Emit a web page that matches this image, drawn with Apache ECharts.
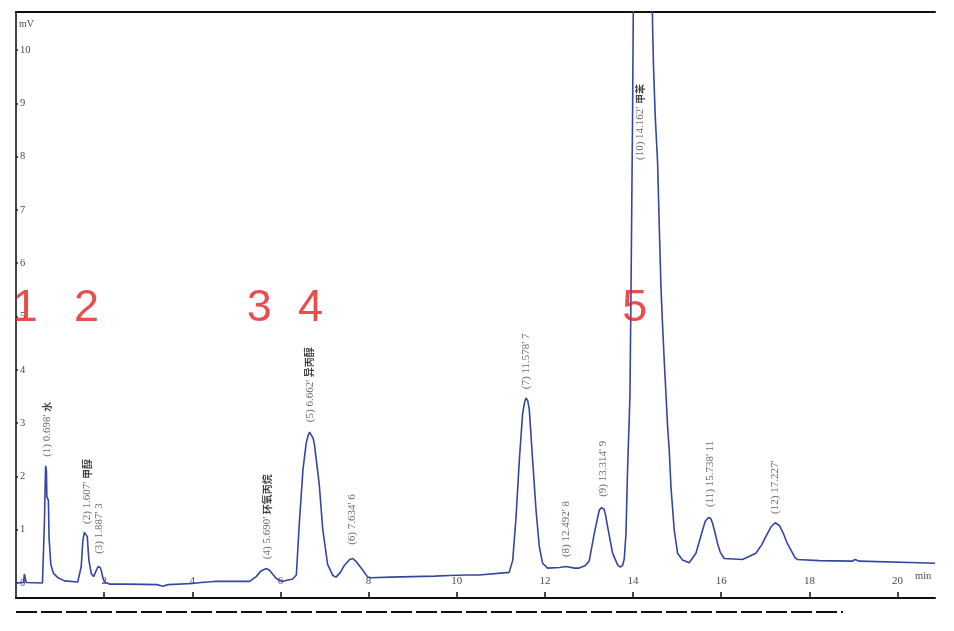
<!DOCTYPE html>
<html>
<head>
<meta charset="utf-8">
<script src="https://cdn.jsdelivr.net/npm/echarts@6/dist/echarts.min.js"></script>
<style>html,body{margin:0;padding:0;background:#fff;}#chart{width:954px;height:631px;}</style>
</head>
<body>
<div id="chart"></div>
<script>
// Chromatogram trace (time in min, signal in mV)
const chromTime = [0.00,0.17,0.19,0.21,0.23,0.60,0.63,0.645,0.672,0.69,0.70,0.735,0.75,0.79,0.85,0.95,1.10,1.40,
  1.442,1.48,1.517,1.55,1.578,1.617,1.653,1.707,1.76,1.79,1.83,1.86,1.88,1.91,1.934,1.97,2.01,2.12,2.50,3.20,3.33,3.45,4.00,4.20,4.50,5.00,
  5.30,5.45,5.55,5.64,5.69,5.75,5.82,5.90,6.02,6.20,6.27,6.36,6.43,6.51,6.58,6.62,6.66,6.70,6.74,6.77,6.85,6.88,6.96,7.07,7.19,7.26,
  7.36,7.45,7.57,7.64,7.72,7.87,7.98,8.06,8.50,9.50,9.83,10.20,10.51,11.19,
  11.27,11.345,11.42,11.494,11.54,11.571,11.61,11.646,11.721,11.798,11.873,11.948,12.06,12.33,12.48,12.67,12.78,12.92,13.007,
  13.12,13.234,13.28,13.309,13.34,13.37,13.422,13.535,13.649,13.71,13.762,13.80,13.839,13.875,13.929,13.952,13.989,14.011,14.20,
  14.43,14.444,14.465,14.503,14.556,14.594,14.633,14.669,14.708,14.746,14.782,14.82,14.859,14.934,15.01,15.122,
  15.274,15.426,15.576,15.637,15.712,15.762,15.803,15.864,15.916,15.977,16.068,16.483,16.787,16.92,17.03,17.127,17.224,17.32,17.41,
  17.49,17.60,17.67,17.73,18.22,18.97,19.04,19.13,20.49,20.85];
const chromSignal = [0.00,0.01,0.17,0.15,0.01,0.00,0.02,1.15,2.20,2.10,1.62,1.55,0.85,0.35,0.18,0.10,0.04,0.02,
  0.02,0.31,0.80,0.95,0.98,0.87,0.43,0.18,0.12,0.13,0.25,0.31,0.32,0.29,0.24,0.10,0.02,-0.02,-0.02,-0.03,-0.06,-0.03,-0.01,0.01,0.03,0.03,
  0.03,0.12,0.22,0.26,0.27,0.24,0.17,0.09,0.03,0.06,0.07,0.15,1.15,2.12,2.60,2.75,2.83,2.80,2.72,2.60,2.06,1.85,1.00,0.35,0.14,0.11,
  0.20,0.33,0.44,0.46,0.40,0.24,0.11,0.10,0.11,0.13,0.14,0.15,0.15,0.20,
  0.43,1.24,2.31,3.18,3.40,3.47,3.42,3.25,2.31,1.37,0.68,0.37,0.28,0.29,0.31,0.28,0.28,0.33,0.42,
  0.93,1.37,1.41,1.42,1.39,1.30,1.06,0.56,0.34,0.30,0.33,0.45,0.93,2.12,3.50,5.40,8.80,11.50,13.50,
  11.20,10.40,9.65,8.75,7.90,6.70,5.55,4.85,4.15,3.55,2.95,2.50,1.81,0.99,0.56,0.43,
  0.38,0.56,0.99,1.16,1.23,1.21,1.12,0.93,0.74,0.58,0.46,0.44,0.56,0.72,0.90,1.05,1.13,1.08,0.93,
  0.76,0.59,0.48,0.44,0.42,0.41,0.44,0.41,0.38,0.37];

// Peak annotations
const peakTimes = [0.698,1.607,1.887,5.690,6.662,7.634,11.578,12.492,13.314,14.162,15.738,17.227];
const peakNames = ['水','甲醇','3','环氧丙烷','异丙醇','6','7','8','9','甲苯','11',''];
const labelBase = [2.31,1.05,0.49,0.39,2.96,0.66,3.58,0.43,1.56,7.88,1.37,1.24];

// Red marker numbers (peak group ids) and their time positions
const groupIds = ['1','2','3','4','5'];
const groupTimes = [0.21,1.60,5.52,6.68,14.04];
const groupLevel = 5.14;

const xTicks = {min:0, max:20.85, interval:2};
const yTickValues = [0,1,2,3,4,5,6,7,8,9,10];

const chart = echarts.init(document.getElementById('chart'));
const lineData = chromTime.map((t,i)=>[t, chromSignal[i]]);
const labelData = peakTimes.map((t,i)=>({value:[t, labelBase[i]], idx:i}));

chart.setOption({
  animation:false,
  backgroundColor:'#fff',
  grid:{left:16, right:19, top:12, bottom:33, containLabel:false},
  xAxis:[{
    type:'value', min:xTicks.min, max:xTicks.max, interval:xTicks.interval, position:'bottom',
    name:'min', nameLocation:'end', nameGap:-20,
    nameTextStyle:{color:'#4a4a5a', fontSize:10.5, fontFamily:'Liberation Serif', align:'left', verticalAlign:'bottom', padding:[0,0,16,0]},
    axisLine:{onZero:false, lineStyle:{color:'#111', width:2}},
    axisTick:{inside:true, length:6, lineStyle:{color:'#111', width:1.5}},
    axisLabel:{inside:true, margin:11, color:'#4a4a5a', fontSize:11, fontFamily:'Liberation Serif', showMinLabel:false, showMaxLabel:false},
    splitLine:{show:false}
  },{
    type:'value', min:xTicks.min, max:xTicks.max, position:'top',
    axisLine:{onZero:false, lineStyle:{color:'#111', width:2}},
    axisTick:{show:false}, axisLabel:{show:false}, splitLine:{show:false}
  }],
  yAxis:{
    type:'value', min:-0.281, max:10.713,
    name:'mV', nameLocation:'end', nameGap:-12,
    nameTextStyle:{color:'#4a4a5a', fontSize:10, fontFamily:'Liberation Serif', align:'left', verticalAlign:'middle', padding:[0,0,0,3]},
    axisLine:{show:true, onZero:false, lineStyle:{color:'#444', width:2}},
    axisTick:{show:true, inside:true, length:2, customValues:yTickValues, lineStyle:{color:'#222', width:1.5}},
    axisLabel:{inside:true, margin:4, customValues:yTickValues, color:'#4a4a5a', fontSize:10.5, fontFamily:'Liberation Serif'},
    splitLine:{show:false}
  },
  series:[{
    type:'line', data:lineData, xAxisIndex:0, showSymbol:false, symbol:'none', clip:true,
    lineStyle:{color:'#3446a0', width:1.6}, silent:true, z:2
  },{
    type:'scatter', data:labelData, xAxisIndex:0, symbolSize:0.1, silent:true, z:3,
    label:{
      show:true, position:'top', distance:0, rotate:90, align:'left', verticalAlign:'middle', offset:[3,0],
      color:'#444', fontSize:11, fontFamily:'Liberation Serif',
      formatter:(p)=>{
        const i = p.data.idx; const n = peakNames[i];
        const isCJK = /[\u4e00-\u9fff]/.test(n);
        return '(' + (i+1) + ') ' + peakTimes[i].toFixed(3) + "' " + (n ? (isCJK ? '{b|' + n + '}' : n) : '');
      },
      rich:{b:{fontFamily:'Noto Sans CJK SC', fontWeight:'bold', fontSize:10, color:'#111'}}
    }
  },{
    type:'scatter', data:groupTimes.map((t,i)=>({value:[t, groupLevel], id:groupIds[i]})), xAxisIndex:0,
    symbolSize:0.1, silent:true, z:4,
    label:{show:true, position:'inside', formatter:(p)=>p.data.id, color:'#e3201f', fontSize:45, fontFamily:'Liberation Sans'}
  }],
  graphic:[{
    type:'line', shape:{x1:16, y1:612, x2:843, y2:612},
    style:{stroke:'#111', lineWidth:2, lineDash:[21,4]}
  }]
});
</script>
</body>
</html>
